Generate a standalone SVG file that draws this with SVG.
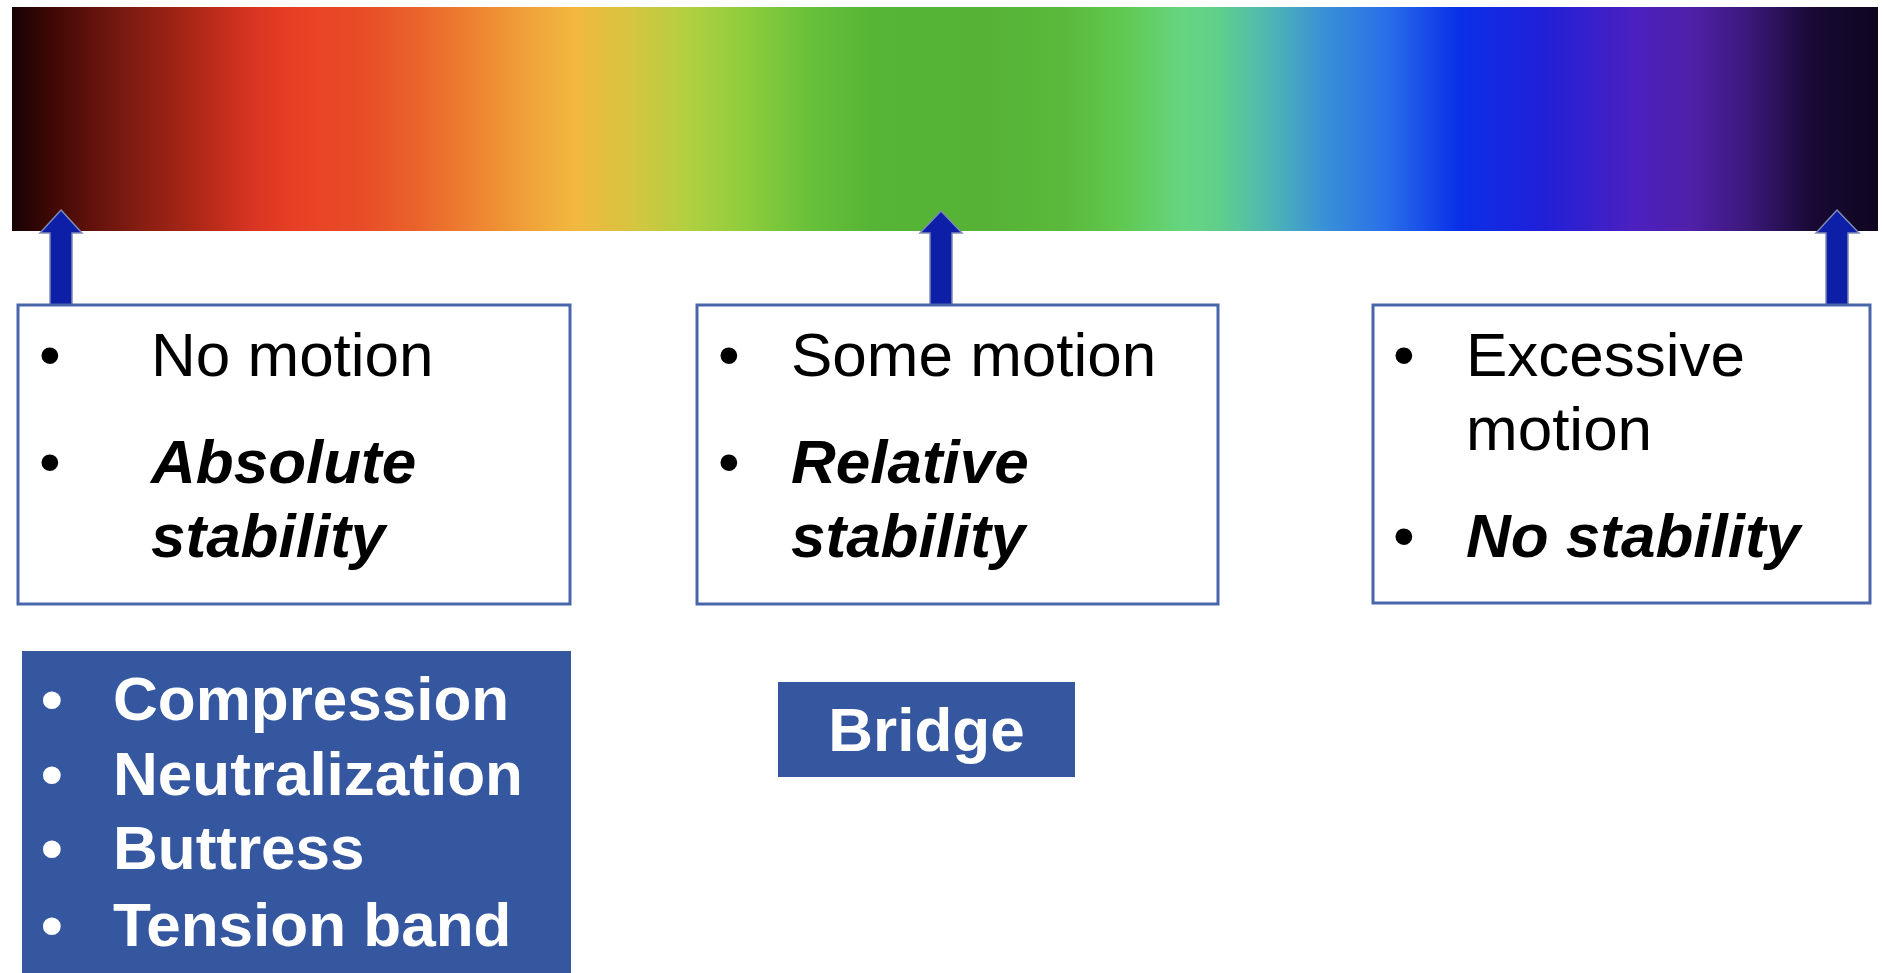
<svg xmlns="http://www.w3.org/2000/svg" width="1882" height="973" viewBox="0 0 1882 973">
<defs>
<linearGradient id="spectrum" x1="12" y1="0" x2="1878" y2="0" gradientUnits="userSpaceOnUse">
<stop offset="0" stop-color="#180203"/>
<stop offset="0.026" stop-color="#480a06"/>
<stop offset="0.060" stop-color="#7a1a10"/>
<stop offset="0.095" stop-color="#a82616"/>
<stop offset="0.128" stop-color="#d83422"/>
<stop offset="0.152" stop-color="#e84025"/>
<stop offset="0.186" stop-color="#e84b27"/>
<stop offset="0.218" stop-color="#ea642b"/>
<stop offset="0.251" stop-color="#ee8632"/>
<stop offset="0.283" stop-color="#f0a83a"/>
<stop offset="0.302" stop-color="#f2b840"/>
<stop offset="0.331" stop-color="#d8c440"/>
<stop offset="0.363" stop-color="#b0d040"/>
<stop offset="0.395" stop-color="#8ccc3c"/>
<stop offset="0.428" stop-color="#68c03a"/>
<stop offset="0.460" stop-color="#55b535"/>
<stop offset="0.520" stop-color="#55b236"/>
<stop offset="0.562" stop-color="#5ab83a"/>
<stop offset="0.594" stop-color="#60c850"/>
<stop offset="0.627" stop-color="#65d580"/>
<stop offset="0.646" stop-color="#60d08a"/>
<stop offset="0.672" stop-color="#50b8b0"/>
<stop offset="0.704" stop-color="#3890d8"/>
<stop offset="0.736" stop-color="#2a70e8"/>
<stop offset="0.775" stop-color="#0a30e8"/>
<stop offset="0.820" stop-color="#2020d8"/>
<stop offset="0.868" stop-color="#4a20c0"/>
<stop offset="0.900" stop-color="#5020a8"/>
<stop offset="0.932" stop-color="#3a1878"/>
<stop offset="0.964" stop-color="#180a35"/>
<stop offset="1" stop-color="#100520"/>
</linearGradient>
<style>
.box{fill:#ffffff;stroke:#4a66ab;stroke-width:3}
.fill{fill:#3557a0}
.arrow{fill:#0c1fa6;stroke:#7f8bb5;stroke-width:1.5;stroke-linejoin:miter}
.t{font-family:"Liberation Sans",Arial,Helvetica,sans-serif;font-size:62px;fill:#000000}
.bi{font-weight:bold;font-style:italic}
.w{font-weight:bold;fill:#ffffff}
</style>
</defs>
<rect width="1882" height="973" fill="#ffffff"/>
<g id="spectrum-bar">
<rect x="12" y="7" width="1866" height="224" fill="url(#spectrum)"/>
</g>
<g id="connectors">
<polygon class="arrow" points="61,210 82,233 72,233 72,305 50,305 50,233 40,233"/>
<polygon class="arrow" points="941,211 962,233 952,233 952,305 930,305 930,233 920,233"/>
<polygon class="arrow" points="1837,210 1859,233 1848,233 1848,305 1826,305 1826,233 1816,233"/>
</g>
<g id="node-absolute">
<rect class="box" x="18" y="305" width="552" height="299"/>
<text class="t" x="39" y="376">•</text>
<text class="t" x="151" y="376">No motion</text>
<text class="t" x="39" y="483">•</text>
<text class="t bi" x="151" y="483">Absolute</text>
<text class="t bi" x="151" y="557">stability</text>
</g>
<g id="node-relative">
<rect class="box" x="697" y="305" width="521" height="299"/>
<text class="t" x="718" y="376">•</text>
<text class="t" x="791" y="376">Some motion</text>
<text class="t" x="718" y="483">•</text>
<text class="t bi" x="791" y="483">Relative</text>
<text class="t bi" x="791" y="557">stability</text>
</g>
<g id="node-none">
<rect class="box" x="1373" y="305" width="497" height="298"/>
<text class="t" x="1393" y="376">•</text>
<text class="t" x="1466" y="376">Excessive</text>
<text class="t" x="1466" y="450">motion</text>
<text class="t" x="1393" y="557">•</text>
<text class="t bi" x="1466" y="557">No stability</text>
</g>
<g id="node-methods">
<rect class="fill" x="22" y="651" width="549" height="322"/>
<text class="t w" x="41" y="720">•</text>
<text class="t w" x="113" y="720">Compression</text>
<text class="t w" x="41" y="795">•</text>
<text class="t w" x="113" y="795">Neutralization</text>
<text class="t w" x="41" y="869">•</text>
<text class="t w" x="113" y="869">Buttress</text>
<text class="t w" x="41" y="946">•</text>
<text class="t w" x="113" y="946">Tension band</text>
</g>
<g id="node-bridge">
<rect class="fill" x="778" y="682" width="297" height="95"/>
<text class="t w" x="926.5" y="751" text-anchor="middle">Bridge</text>
</g>
</svg>
